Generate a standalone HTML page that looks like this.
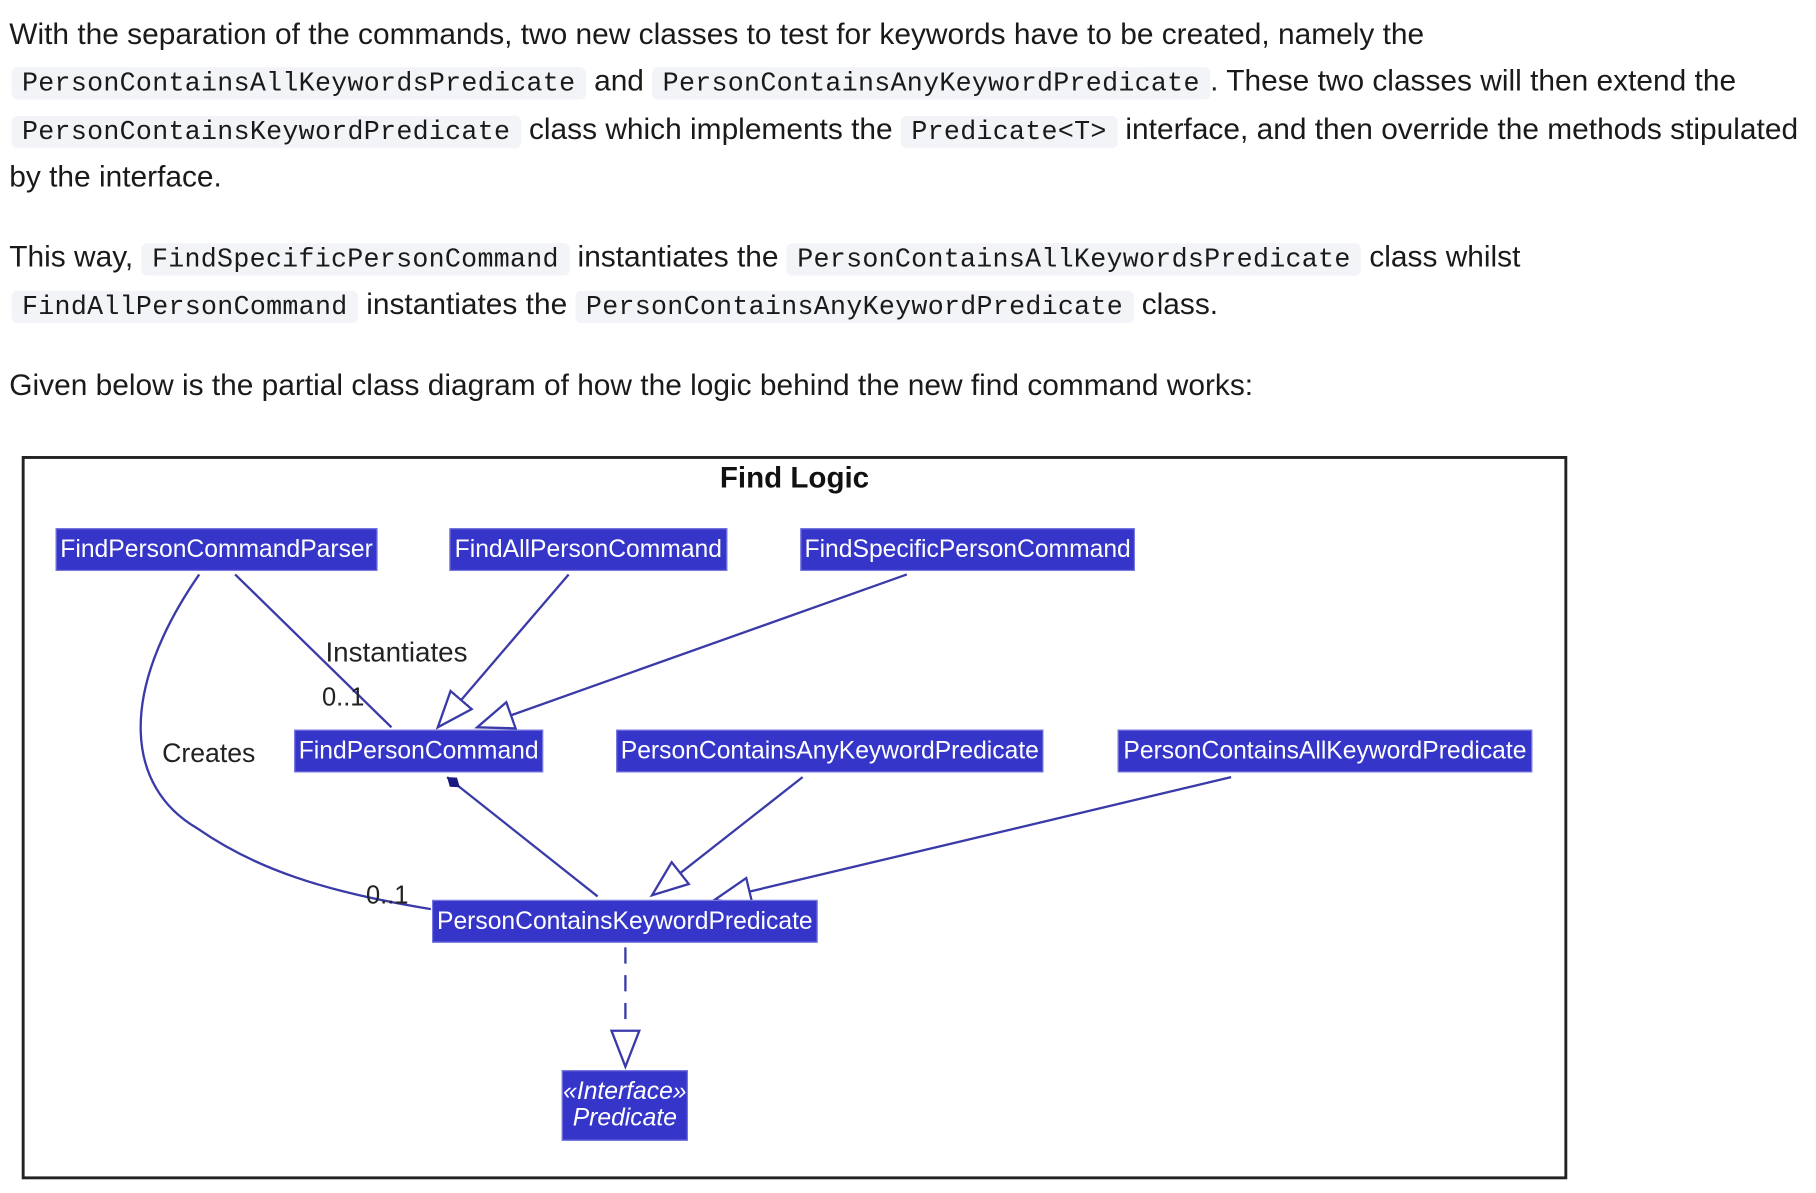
<!DOCTYPE html>
<html><head><meta charset="utf-8"><style>
html,body{margin:0;padding:0;background:#fff;width:1816px;height:1192px;overflow:hidden}
#w{position:absolute;left:0;top:0;width:1568px;height:1030px;transform:scale(1.15816);transform-origin:0 0;font-family:"Liberation Sans",Arial,sans-serif;color:#1a1a1a}
.l{position:absolute;left:8px;white-space:nowrap;font-size:25.8px;line-height:34px}
code{font-family:"Liberation Mono",monospace;font-size:23px;background:#f2f4f7;border-radius:5px;padding:1px 9px;letter-spacing:0.25px}
.b{position:absolute;background:#3535c9;color:#fff;font-size:21.3px;line-height:37px;text-align:center;white-space:nowrap;outline:1px solid #7878e0;outline-offset:-1px}
</style></head><body><div id="w">
<div class="l" style="top:13px">With the separation of the commands, two new classes to test for keywords have to be created, namely the</div>
<div class="l" style="top:53px;left:10px"><code>PersonContainsAllKeywordsPredicate</code> and <code>PersonContainsAnyKeywordPredicate</code>. These two classes will then extend the</div>
<div class="l" style="top:95px;left:10px"><code>PersonContainsKeywordPredicate</code> class which implements the <code>Predicate&lt;T&gt;</code> interface, and then override the methods stipulated</div>
<div class="l" style="top:136px">by the interface.</div>
<div class="l" style="top:205px">This way, <code>FindSpecificPersonCommand</code> instantiates the <code>PersonContainsAllKeywordsPredicate</code> class whilst</div>
<div class="l" style="top:246px;left:10px"><code>FindAllPersonCommand</code> instantiates the <code>PersonContainsAnyKeywordPredicate</code> class.</div>
<div class="l" style="top:316px">Given below is the partial class diagram of how the logic behind the new find command works:</div>

<svg style="position:absolute;left:0;top:0" width="1568" height="1030">
<defs>
<marker id="t" markerUnits="userSpaceOnUse" markerWidth="40" markerHeight="40" refX="32" refY="14" orient="auto"><path d="M1,2 L32,14 L1,26 Z" fill="#fff" stroke="#3a3aa8" stroke-width="2"/></marker>
<marker id="d" markerUnits="userSpaceOnUse" markerWidth="30" markerHeight="20" refX="1" refY="7" orient="auto"><path d="M1,7 L8,2 L15,7 L8,12 Z" fill="#1a1a80"/></marker>
</defs>
<rect x="20" y="395" width="1332" height="622" fill="none" stroke="#222" stroke-width="2.5"/>
<text x="686" y="421" text-anchor="middle" font-family="Liberation Sans,sans-serif" font-weight="bold" font-size="25.5" fill="#111">Find Logic</text>
<g stroke="#3a3aa8" stroke-width="2" fill="none">
<path d="M203,496 L338,628"/>
<path d="M172,496 C100,600 110,680 170,715 C220,750 280,770 372,785"/>
<path d="M491,496 L378,628" marker-end="url(#t)"/>
<path d="M783,496 L412,628" marker-end="url(#t)"/>
<path d="M386,671 L516,774" marker-start="url(#d)"/>
<path d="M693,671 L563,773" marker-end="url(#t)"/>
<path d="M1063,671 L617,777" marker-end="url(#t)"/>
<path d="M540,818 L540,921" stroke-dasharray="14,10" marker-end="url(#t)"/>
</g>
<g font-family="Liberation Sans,sans-serif" fill="#222">
<text x="281" y="571" font-size="24">Instantiates</text>
<text x="278" y="609" font-size="22">0..1</text>
<text x="140" y="658" font-size="23">Creates</text>
<text x="316" y="780" font-size="22">0..1</text>
</g>
</svg>
<div class="b" style="left:48px;top:456px;width:278px">FindPersonCommandParser</div>
<div class="b" style="left:388px;top:456px;width:240px">FindAllPersonCommand</div>
<div class="b" style="left:691px;top:456px;width:289px">FindSpecificPersonCommand</div>
<div class="b" style="left:254px;top:630px;width:215px">FindPersonCommand</div>
<div class="b" style="left:532px;top:630px;width:369px">PersonContainsAnyKeywordPredicate</div>
<div class="b" style="left:965px;top:630px;width:358px">PersonContainsAllKeywordPredicate</div>
<div class="b" style="left:373px;top:777px;width:333px">PersonContainsKeywordPredicate</div>
<div class="b" style="left:485px;top:924px;width:109px;height:61px;line-height:23px;padding-top:7px;box-sizing:border-box;font-style:italic">«Interface»<br>Predicate</div>
</div></body></html>
